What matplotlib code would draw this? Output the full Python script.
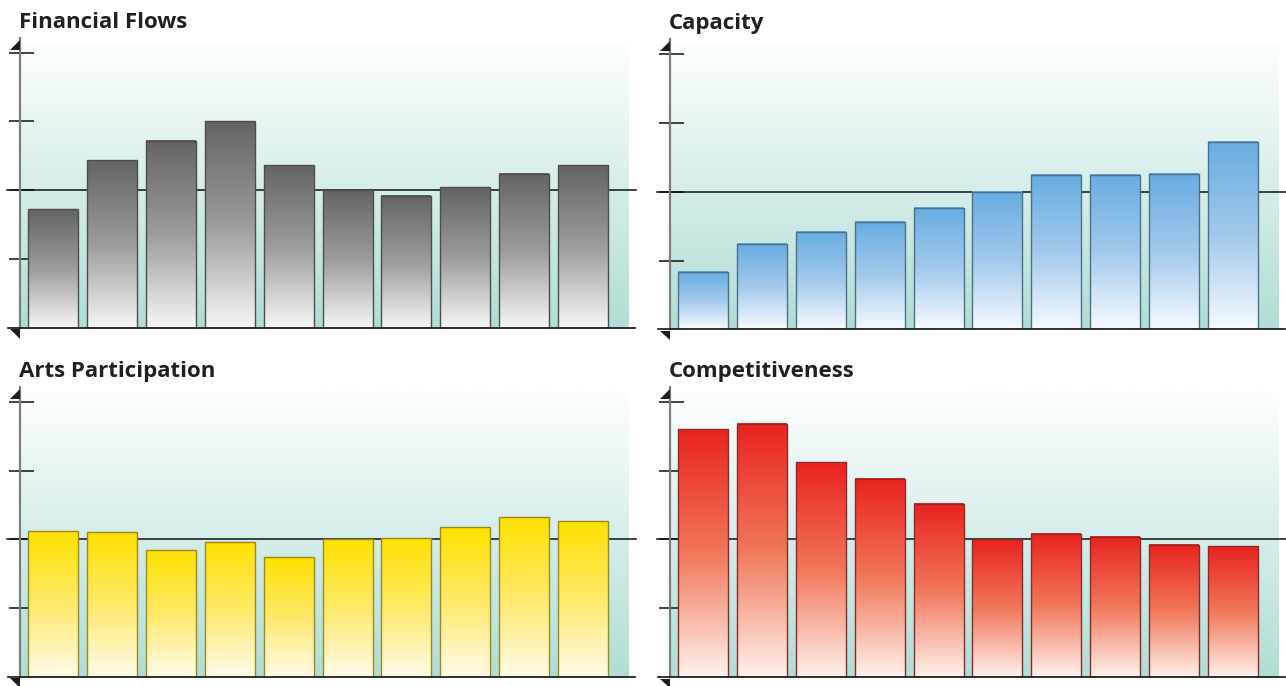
import numpy as np
import matplotlib.pyplot as plt
from matplotlib.patches import Polygon
from matplotlib.colors import LinearSegmentedColormap

# bar heights, ten bars per panel
financial_flows = [43, 61, 68, 75, 59, 50, 48, 51, 56, 59]
capacity = [21, 31, 35.5, 39, 44, 50, 56, 56, 56.5, 68]
arts_participation = [53, 52.5, 46, 49, 43.5, 50, 50.5, 54.5, 58, 56.5]
competitiveness = [90, 92, 78, 72, 63, 50, 52, 51, 48, 47.5]

titles = ["Financial Flows", "Capacity", "Arts Participation", "Competitiveness"]
tick_values = [25, 50, 75, 100]
midline = 50

W, H = 1286, 686
fig = plt.figure(figsize=(W / 100, H / 100), dpi=100)

# gradient stops (top of bar -> bottom of bar) and outline colour per panel
styles = [
    (["#646464", "#9c9c9d", "#f6f6f6"], "#4d4d4d"),
    (["#68ace1", "#a2c9ec", "#f6faff"], "#4d6f87"),
    (["#ffe100", "#fee96a", "#fffbea"], "#9a8a1e"),
    (["#e9231f", "#f1775a", "#fff1ec"], "#8a2b2b"),
]

# panel boxes in pixels: left, right, top, baseline
boxes = [
    (21, 629, 42, 327.7),
    (671, 1279, 43.3, 329.3),
    (21, 629, 391.2, 676.9),
    (671, 1279, 391.3, 677.0),
]

bg_cmap = LinearSegmentedColormap.from_list("bg", ["#fdfefe", "#b0ddd5"])
px_per_unit = 68.8 / 25


def draw_panel(box, values, title, style):
    left, right, top, base = box
    ax = fig.add_axes([left / W, 1 - base / H, (right - left) / W, (base - top) / H])
    ymax = (base - top) / px_per_unit
    n = len(values)
    x = np.arange(n)
    # bar centres 58.9 px apart, first one 32 px from the axis
    xmin = -32 / 58.9
    xmax = xmin + (right - left) / 58.9
    width = 50 / 58.9

    # background wash
    grad = np.linspace(0, 1, 256).reshape(-1, 1)
    ax.imshow(grad, cmap=bg_cmap, extent=[0, 1, 0, 1], transform=ax.transAxes,
              aspect="auto", origin="upper", zorder=0, interpolation="bilinear")

    stops, edge = style
    bar_cmap = LinearSegmentedColormap.from_list("bar", stops)
    bars = ax.bar(x, values, width=width, facecolor="none", edgecolor=edge,
                  linewidth=1.0, zorder=4)
    for b, v in zip(bars, values):
        ax.imshow(grad, cmap=bar_cmap, extent=[b.get_x(), b.get_x() + b.get_width(), 0, v],
                  aspect="auto", origin="upper", zorder=3, interpolation="bilinear")

    ax.set_xlim(xmin, xmax)
    ax.set_ylim(0, ymax)

    for s in ax.spines.values():
        s.set_visible(False)
    ax.set_xticks([])
    ax.set_yticks(tick_values)
    ax.set_yticklabels([])
    ax.tick_params(axis="y", direction="inout", length=18, width=1.1, color="#111111")

    w_px = right - left
    h_px = base - top
    fx = lambda p: p / w_px
    fy = lambda p: p / h_px

    # vertical axis line
    ax.plot([fx(-1), fx(-1)], [0, 1 + fy(4)], transform=ax.transAxes,
            color="#7d7d7d", lw=1.6, clip_on=False, zorder=5)
    # reference line at the midpoint
    ax.plot([fx(-14), 1 + fx(7)], [midline / ymax] * 2, transform=ax.transAxes,
            color="#111111", lw=1.1, clip_on=False, zorder=2)
    # base line
    ax.plot([fx(-13), 1 + fx(6)], [0, 0], transform=ax.transAxes,
            color="#111111", lw=1.2, clip_on=False, zorder=5)

    # arrow heads at both ends of the vertical axis
    up = Polygon([(fx(-11), 1 + fy(-8)), (fx(-1.5), 1 + fy(-8)), (fx(-1.5), 1 + fy(2))],
                 closed=True, transform=ax.transAxes, facecolor="#1e1e1e",
                 edgecolor="none", clip_on=False, zorder=6)
    down = Polygon([(fx(-11), fy(-1.5)), (fx(-1.5), fy(-1.5)), (fx(-1.5), fy(-11))],
                   closed=True, transform=ax.transAxes, facecolor="#1e1e1e",
                   edgecolor="none", clip_on=False, zorder=6)
    ax.add_patch(up)
    ax.add_patch(down)

    fig.text((left - 2) / W, 1 - (top - 14) / H, title, fontsize=16,
             fontweight="bold", family=["Open Sans", "DejaVu Sans"],
             color="#231f20", ha="left", va="baseline")
    return ax


series = [financial_flows, capacity, arts_participation, competitiveness]
for box, vals, title, style in zip(boxes, series, titles, styles):
    draw_panel(box, vals, title, style)

fig.savefig("out.png", dpi=100)
